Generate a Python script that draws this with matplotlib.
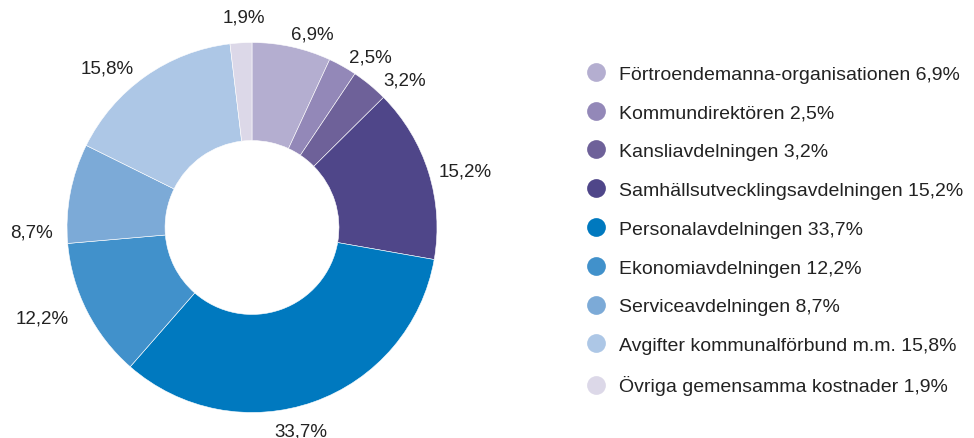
import numpy as np
import matplotlib
matplotlib.use("Agg")
import matplotlib.pyplot as plt
from matplotlib.lines import Line2D
from matplotlib.transforms import offset_copy

# andelar per verksamhet (procent)
namn = ["Förtroendemanna-organisationen", "Kommundirektören", "Kansliavdelningen",
        "Samhällsutvecklingsavdelningen", "Personalavdelningen", "Ekonomiavdelningen",
        "Serviceavdelningen", "Avgifter kommunalförbund m.m.", "Övriga gemensamma kostnader"]
andel = [6.9, 2.5, 3.2, 15.2, 33.7, 12.2, 8.7, 15.8, 1.9]
farger = ["#b4aed0", "#9388b8", "#6e6199", "#4f4689", "#0079bf",
          "#4191cb", "#7caad7", "#adc7e6", "#dcd8e8"]
# små förskjutningar (px) av etiketterna för att likna originalet
etikett_skift = [(15, -14), (14, -15), (17, -17), (10, -7), (-22, -3),
                 (-20, 6), (-11, -44), (-22, -14), (5, -2)]

plt.rcParams['font.family'] = ['Liberation Sans', 'DejaVu Sans']

fig = plt.figure(figsize=(9.74, 4.39), dpi=100)
W, H = 974, 439
cx, cy, r = 252, 439 - 228.5, 185
ax = fig.add_axes([(cx - r) / W, (cy - r) / H, 2 * r / W, 2 * r / H])

def fmt(v):
    return ("%.1f" % v).replace(".", ",") + "%"

wedges, texts = ax.pie(andel, colors=farger, startangle=90, counterclock=False,
                       labels=[fmt(v) for v in andel], labeldistance=1.15,
                       wedgeprops=dict(width=0.53, edgecolor="white", linewidth=0.4),
                       textprops=dict(fontsize=13.5, color="#222222"))
for t, (dx, dy) in zip(texts, etikett_skift):
    t.set_ha("center")
    t.set_va("center")
    t.set_transform(offset_copy(ax.transData, fig=fig, x=dx, y=dy, units="dots"))
    t.set_clip_on(False)
ax.set_xlim(-1, 1)
ax.set_ylim(-1, 1)
ax.set_aspect("equal")

handles = [Line2D([], [], marker="o", linestyle="", markersize=13.5,
                  markerfacecolor=c, markeredgecolor="none") for c in farger]
etiketter = [n + " " + fmt(v) for n, v in zip(namn, andel)]
leg = fig.legend(handles, etiketter, loc="upper left", bbox_to_anchor=(586 / W, 1 - 66 / H),
                 frameon=False, fontsize=14, labelspacing=1.09, handletextpad=0.68,
                 handlelength=1.0, borderaxespad=0, borderpad=0)
for t in leg.get_texts():
    t.set_color("#222222")

fig.savefig("out.png", dpi=100)
